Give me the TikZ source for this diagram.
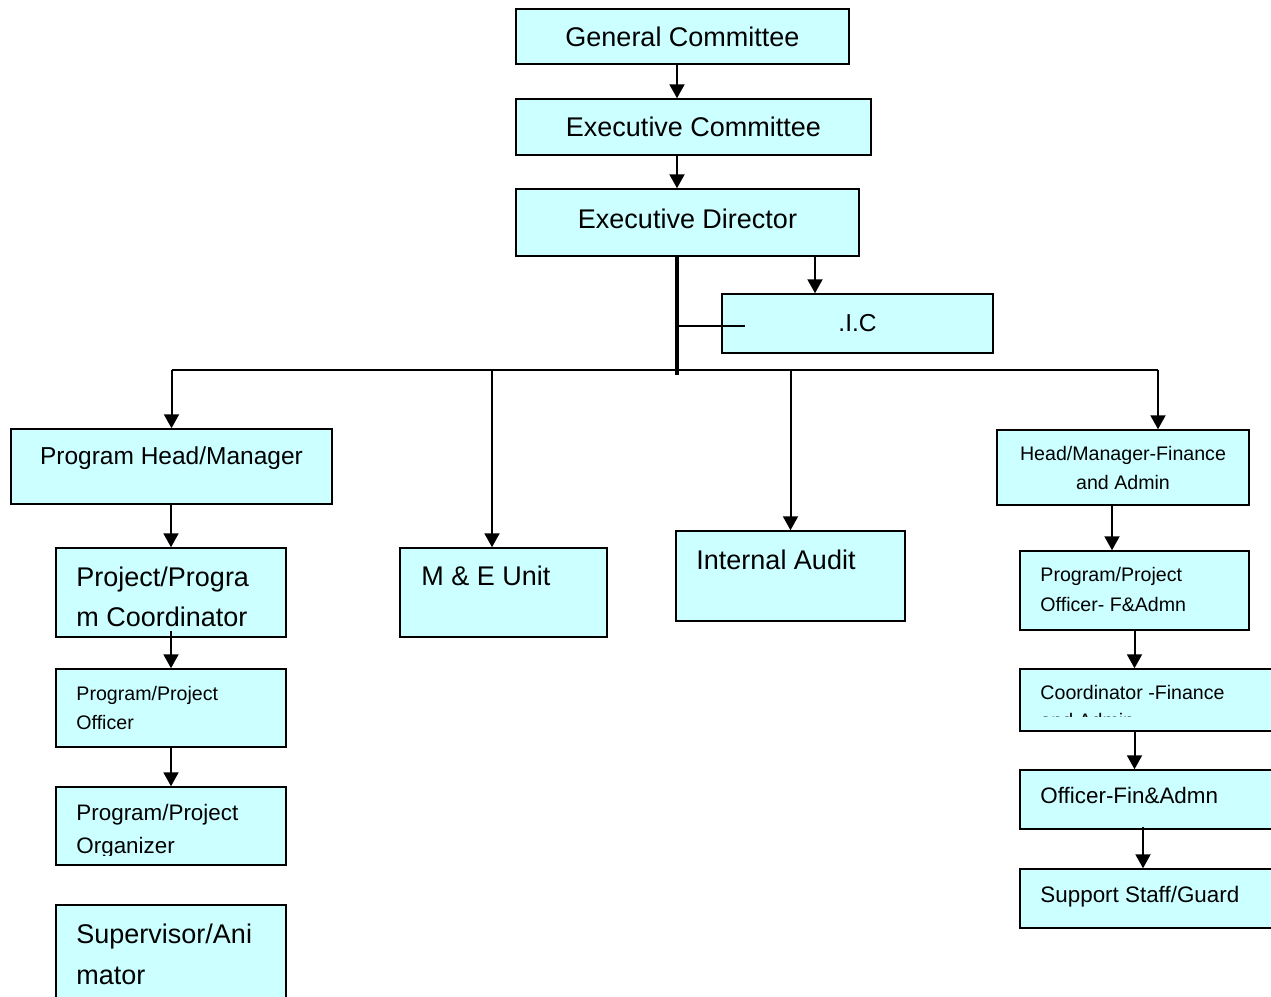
\documentclass[tikz,border=0pt]{standalone}
\usepackage{fontspec}
\setmainfont{Liberation Sans}
\usepackage{xcolor}
\usetikzlibrary{arrows.meta, positioning, calc}
\definecolor{boxcyan}{HTML}{CCFFFF}

\begin{document}
\begin{tikzpicture}[
    x=1pt, y=-1pt,
    >={Triangle[width=15pt, length=14pt]},
    post/.style={rectangle, draw, line width=1.5pt, fill=boxcyan, inner sep=0pt},
    txt/.style={anchor=north west, inner sep=0pt, align=left},
    big/.style={font=\fontsize{27}{40}\selectfont},
    head/.style={font=\fontsize{24.5}{30}\selectfont},
    mid/.style={font=\fontsize{22.4}{33}\selectfont},
    small/.style={font=\fontsize{19.6}{29}\selectfont},
    link/.style={->, line width=2pt},
]
    \clip (0,0) rectangle (1271,996);

    % ── Top of the chart ──────────────────────────
    \node[post, minimum width=333pt, minimum height=55pt, big] (gc) at (682.5,36.5) {General Committee};
    \node[post, minimum width=355pt, minimum height=56pt, big] (ec) at (693.5,127) {Executive Committee};
    \node[post, minimum width=343pt, minimum height=67pt, big, text depth=8pt] (ed) at (687.5,222.5) {Executive Director};
    \node[post, minimum width=271pt, minimum height=59pt, head] (ic) at (857.5,323.5) {.I.C};

    \coordinate (bus) at (677,370);
    \draw[link] (gc.south -| bus) -- (ec.north -| bus);
    \draw[link] (ec.south -| bus) -- (ed.north -| bus);
    \draw[link] ([xshift=-42.5pt]ic.north |- ed.south) -- ([xshift=-42.5pt]ic.north);
    \draw[line width=4pt] (ed.south -| bus) -- ([yshift=-5pt]bus);
    \draw[line width=1.5pt] (bus |- 0,326) -- (745,326);

    % ── Second row ────────────────────────────────
    \node[post, minimum width=321pt, minimum height=75pt] (ph) at (171.5,466.5) {};
    \node[txt, anchor=north, head] (ph-t) at ([yshift=-18pt]ph.north) {Program Head/Manager};
    \node[post, minimum width=207pt, minimum height=89pt] (me) at (503.5,592.5) {};
    \node[txt, big] (me-t) at ([xshift=22pt, yshift=-18pt]me.north west) {M \& E Unit};
    \node[post, minimum width=229pt, minimum height=90pt] (ia) at (790.5,576) {};
    \node[txt, big] (ia-t) at ([xshift=21pt, yshift=-19pt]ia.north west) {Internal Audit};
    \node[post, minimum width=252pt, minimum height=75pt] (hf) at (1123,467.5) {};
    \node[txt, anchor=north, align=center, small] (hf-t) at ([yshift=-17pt]hf.north) {Head/Manager-Finance\\and Admin};

    \coordinate (busL) at (ph.north |- bus);
    \coordinate (busR) at ([xshift=35pt]hf.north |- bus);
    \draw[line width=2pt] (busL) -- (busR);
    \draw[link] (busL) -- (ph.north);
    \draw[link] ([xshift=-11.5pt]me.north |- bus) -- ([xshift=-11.5pt]me.north);
    \draw[link] (ia.north |- bus) -- (ia.north);
    \draw[link] (busR) -- (busR |- hf.north);

    % ── Program column (left) ─────────────────────
    \node[post, minimum width=230pt, minimum height=89pt] (pc) at (171,592.5) {};
    \begin{scope}
      \clip (pc.north west) rectangle ([yshift=10pt]pc.south east);
      \node[txt, big] (pc-t) at ([xshift=21pt, yshift=-19pt]pc.north west) {Project/Progra\\m Coordinator};
    \end{scope}
    \node[post, minimum width=230pt, minimum height=78pt] (po) at (171,708) {};
    \node[txt, small] (po-t) at ([xshift=21pt, yshift=-18pt]po.north west) {Program/Project\\Officer};
    \node[post, minimum width=230pt, minimum height=78pt] (pr) at (171,826) {};
    \begin{scope}
      \clip (pr.north west) rectangle ([yshift=10pt]pr.south east);
      \node[txt, mid] (pr-t) at ([xshift=21pt, yshift=-18pt]pr.north west) {Program/Project\\Organizer};
    \end{scope}
    \node[post, minimum width=230pt, minimum height=105pt] (sa) at (171,957.5) {};
    \node[txt, big, font=\fontsize{27}{41}\selectfont] (sa-t) at ([xshift=21pt, yshift=-19pt]sa.north west) {Supervisor/Ani\\mator};

    \draw[link] (pc.north |- ph.south) -- (pc.north);
    \draw[link] ([yshift=7pt]pc.south) -- (po.north);
    \draw[link] (po.south) -- (pr.north);

    % ── Finance column (right) ────────────────────
    \node[post, minimum width=229pt, minimum height=79pt] (pf) at (1134.5,590.5) {};
    \node[txt, small, font=\fontsize{19.6}{30}\selectfont] (pf-t) at ([xshift=21pt, yshift=-17pt]pf.north west) {Program/Project\\Officer- F\&Admn};
    \node[post, minimum width=270pt, minimum height=62pt] (cf) at (1155,700) {};
    \begin{scope}
      \clip (cf.north west) rectangle ([yshift=15pt]cf.south east);
      \node[txt, small, font=\fontsize{19.6}{28}\selectfont] (cf-t) at ([xshift=21pt, yshift=-17pt]cf.north west) {Coordinator -Finance\\and Admin};
    \end{scope}
    \node[post, minimum width=270pt, minimum height=59pt] (of) at (1155,799.5) {};
    \node[txt, mid] (of-t) at ([xshift=21pt, yshift=-18pt]of.north west) {Officer-Fin\&Admn};
    \node[post, minimum width=270pt, minimum height=59pt] (ss) at (1155,898.5) {};
    \node[txt, mid] (ss-t) at ([xshift=21pt, yshift=-18pt]ss.north west) {Support Staff/Guard};

    \draw[link] ([xshift=-11pt]hf.south) -- ([xshift=-11pt]hf.south |- pf.north);
    \draw[link] (pf.south) -- (pf.south |- cf.north);
    \draw[link] (pf.south |- cf.south) -- (pf.south |- of.north);
    \draw[link] ($(pf.south |- of.south)+(8.5,-3)$) -- ($(pf.south |- ss.north)+(8.5,0)$);
\end{tikzpicture}
\end{document}
